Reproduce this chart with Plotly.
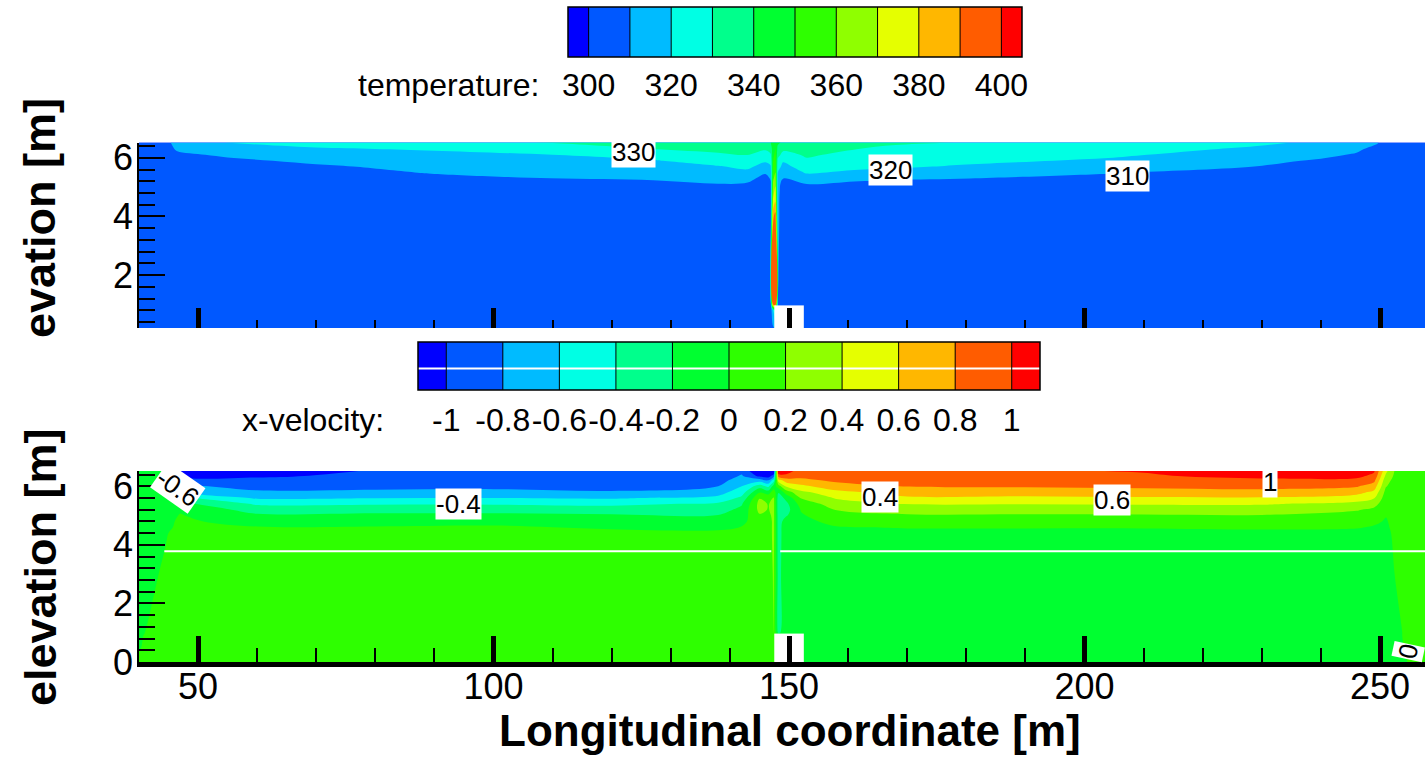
import numpy as np
import plotly.graph_objects as go

FONT = "Liberation Sans, Arial, Helvetica, sans-serif"
W, H = 1425, 757

# ---------------- colour bands (Tecplot-like rainbow, 12 bands) ----------------
band_colors = ["#0000FF", "#0058FF", "#00BBFF", "#00FFE4", "#00FF8C", "#00FF30",
               "#2EFF00", "#8FFF00", "#E5FF00", "#FFB700", "#FF5C00", "#FF0000"]

# ---------------- legend levels / tick labels ----------------
temp_levels = [300, 310, 320, 330, 340, 350, 360, 370, 380, 390, 400]
temp_tick_values = [300, 320, 340, 360, 380, 400]
temp_tick_labels = ["300", "320", "340", "360", "380", "400"]

vel_levels = [-1.0, -0.8, -0.6, -0.4, -0.2, 0.0, 0.2, 0.4, 0.6, 0.8, 1.0]
vel_tick_labels = ["-1", "-0.8", "-0.6", "-0.4", "-0.2", "0", "0.2", "0.4", "0.6", "0.8", "1"]

x_major_ticks = [50, 100, 150, 200, 250]
elev_major_ticks = [0, 2, 4, 6]

# ---------------- temperature field ----------------
temp_y = [0, 0.8, 1.0, 4.0, 4.5, 4.9, 5.1, 5.3, 5.5, 5.7, 5.9, 6.1, 6.3, 6.52]
temp_x = [40, 44.5, 46.5, 55, 70, 90, 110, 127, 138, 143, 146, 146.9, 147.3, 147.7,
          148.1, 149, 153, 161, 168, 180, 204, 228, 240, 246, 249.5, 251, 258]
temp_profiles = [
    [305, 305, 305, 305, 305, 305, 305, 305, 305, 305, 305, 305, 305, 305],            # 40
    [305, 305, 305, 305, 305, 305, 305, 305, 305, 305, 305, 305, 305, 306],            # 44.5
    [305, 305, 305, 305, 305, 305, 305, 305, 305, 305, 305, 307.5, 311.6, 315],        # 46.5
    [305, 305, 305, 305, 305, 305, 305, 305, 305, 305, 307.5, 312, 316, 320.4],        # 55
    [305, 305, 305, 305, 305, 305, 305, 305, 305, 308.5, 312.4, 315.8, 319.2, 323],    # 70
    [305, 305, 305, 305, 305, 305, 305, 307, 311, 313.3, 315.7, 318.1, 320.8, 327.5],  # 90
    [305, 305, 305, 305, 305, 305, 305.3, 310.1, 312.6, 315.1, 317.5, 320, 325, 330.5],  # 110
    [305, 305, 305, 305, 305, 305, 307.5, 311.3, 314, 316.7, 319.3, 324.3, 330, 334],  # 127
    [305, 305, 305, 305, 305, 305, 309.8, 313.1, 316.3, 319.4, 323.9, 328.8, 332, 336],  # 138
    [305, 305, 305, 305, 305, 305, 308.8, 313.3, 317.8, 322, 326, 330.2, 333, 336],    # 143
    [305, 305, 305, 305, 305, 305, 305, 306.3, 311.3, 316.3, 321.3, 326.3, 331, 338],  # 146
    [305, 305, 306, 306, 307, 308, 309, 311, 315, 319, 324, 329, 334, 340],            # 146.9
    [305, 320, 390, 388, 372, 365, 362, 358, 355, 352, 350, 348, 346, 346],            # 147.3
    [305, 330, 396, 394, 380, 373, 368, 364, 360, 357, 354, 352, 350, 348],            # 147.7
    [305, 305, 310, 312, 312, 313, 314, 316, 320, 324, 328, 333, 337, 342],            # 148.1
    [305, 305, 305, 305, 305, 305, 305.5, 310.3, 313.8, 317.2, 321.1, 327, 332, 338],  # 149
    [305, 305, 305, 305, 305, 305, 309.8, 315.7, 321, 324.8, 328.7, 331.2, 333.5, 336],  # 153
    [305, 305, 305, 305, 305, 305, 307.5, 312.9, 318.6, 322.1, 324.9, 327.6, 330.2, 333],  # 161
    [305, 305, 305, 305, 305, 305, 306.3, 311.4, 317.1, 321.2, 323.7, 326.1, 328.5, 331],  # 168
    [305, 305, 305, 305, 305, 305, 305, 310.2, 314.4, 318.9, 321.9, 324.5, 327.1, 329.8],  # 180
    [305, 305, 305, 305, 305, 305, 305, 306.3, 311, 314.9, 318.8, 321.5, 323.5, 326],  # 204
    [305, 305, 305, 305, 305, 305, 305, 305, 305, 310.2, 313, 316, 319, 322],          # 228
    [305, 305, 305, 305, 305, 305, 305, 305, 305, 305, 308.8, 312.3, 315.4, 318.5],    # 240
    [305, 305, 305, 305, 305, 305, 305, 305, 305, 305, 305, 309, 312, 315],            # 246
    [305, 305, 305, 305, 305, 305, 305, 305, 305, 305, 305, 305, 306.5, 311],          # 249.5
    [305, 305, 305, 305, 305, 305, 305, 305, 305, 305, 305, 305, 305, 306],            # 251
    [305, 305, 305, 305, 305, 305, 305, 305, 305, 305, 305, 305, 305, 305],            # 258
]

# ---------------- x-velocity field ----------------
vel_y = [0, 0.5, 0.9, 1.0, 3.0, 4.4, 4.6, 4.8, 5.0, 5.2, 5.4, 5.6, 5.8, 6.0, 6.2, 6.35, 6.52]
vel_x = [40, 44.5, 47, 60, 80, 100, 120, 138, 142, 145, 146.5, 147.4, 148.2, 149.5, 152,
         158, 170, 190, 210, 230, 246, 249, 251, 253, 256, 258]
vel_profiles = [
    [0.02, -0.01, -0.02, -0.029, -0.116, -0.14, -0.12, -0.1, -0.1, -0.1, -0.1, -0.1, -0.1, -0.1, -0.1, -0.1, -0.1],  # 40
    [0.1, 0.1, 0.1, 0.1, 0.04, -0.02, -0.05, -0.05, -0.06, -0.1, -0.1, -0.1, -0.1, -0.1, -0.1, -0.1, -0.1],          # 44.5
    [0.1, 0.1, 0.1, 0.1, 0.1, 0.08, 0.05, 0.03, 0.01, -0.02, -0.15, -0.35, -0.58, -0.76, -0.9, -1.0, -1.05],        # 47
    [0.1, 0.1, 0.1, 0.1, 0.1, 0.05, 0.01, -0.07, -0.16, -0.29, -0.43, -0.63, -0.77, -0.87, -0.96, -1.02, -1.06],    # 60
    [0.1, 0.1, 0.1, 0.1, 0.1, 0.05, 0.01, -0.06, -0.15, -0.28, -0.42, -0.61, -0.76, -0.86, -0.93, -0.97, -0.99],    # 80
    [0.1, 0.1, 0.1, 0.1, 0.1, 0.05, 0.02, -0.05, -0.15, -0.28, -0.42, -0.6, -0.75, -0.85, -0.9, -0.93, -0.95],      # 100
    [0.1, 0.1, 0.1, 0.1, 0.1, 0.04, -0.02, -0.08, -0.17, -0.3, -0.45, -0.62, -0.78, -0.88, -0.95, -0.98, -0.99],    # 120
    [0.1, 0.1, 0.1, 0.1, 0.1, 0.03, -0.03, -0.1, -0.19, -0.28, -0.37, -0.55, -0.68, -0.8, -0.88, -0.92, -0.95],     # 138
    [0.1, 0.1, 0.1, 0.1, 0.1, 0.04, 0.005, -0.05, -0.1, -0.15, -0.22, -0.35, -0.5, -0.6, -0.7, -0.78, -0.85],       # 142
    [0.1, 0.1, 0.1, 0.1, 0.1, 0.1, 0.1, 0.12, 0.18, 0.25, 0.26, 0.19, -0.02, -0.3, -0.7, -1.05, -1.2],              # 145
    [0.1, 0.1, 0.1, 0.1, 0.1, 0.1, 0.1, 0.1, 0.15, 0.19, 0.19, 0.15, -0.1, -0.45, -0.8, -1.1, -1.2],                # 146.5
    [0.1, 0.1, 0.1, 0.21, 0.22, 0.25, 0.25, 0.25, 0.25, 0.25, 0.25, 0.21, 0.1, -0.1, -0.5, -0.9, -1.2],             # 147.4
    [-0.05, -0.05, -0.05, -0.25, -0.28, -0.3, -0.3, -0.3, -0.3, -0.32, -0.32, -0.3, -0.18, 0.1, 0.5, 0.9, 1.15],    # 148.2
    [-0.05, -0.05, -0.05, -0.05, -0.05, -0.05, -0.05, -0.1, -0.22, -0.28, -0.25, -0.15, 0.1, 0.42, 0.7, 0.95, 1.1], # 149.5
    [-0.05, -0.05, -0.05, -0.05, -0.05, -0.05, -0.05, -0.05, -0.02, 0.01, 0.08, 0.21, 0.35, 0.55, 0.75, 0.85, 0.9], # 152
    [-0.05, -0.05, -0.05, -0.05, -0.05, -0.05, -0.01, 0.05, 0.12, 0.21, 0.3, 0.42, 0.55, 0.72, 0.84, 0.88, 0.92],   # 158
    [-0.05, -0.05, -0.05, -0.05, -0.05, -0.04, 0.01, 0.08, 0.18, 0.27, 0.41, 0.57, 0.7, 0.81, 0.87, 0.92, 0.95],    # 170
    [-0.05, -0.05, -0.05, -0.05, -0.05, -0.04, 0.01, 0.08, 0.18, 0.28, 0.41, 0.56, 0.7, 0.82, 0.9, 0.95, 0.98],     # 190
    [-0.05, -0.05, -0.05, -0.05, -0.05, -0.04, 0.01, 0.09, 0.18, 0.3, 0.42, 0.58, 0.72, 0.84, 0.92, 0.98, 1.01],    # 210
    [-0.05, -0.05, -0.05, -0.05, -0.05, -0.03, 0.02, 0.1, 0.19, 0.3, 0.42, 0.58, 0.74, 0.86, 0.96, 1.05, 1.1],      # 230
    [-0.05, -0.05, -0.05, -0.05, -0.05, -0.04, 0.01, 0.05, 0.12, 0.22, 0.35, 0.5, 0.68, 0.82, 0.95, 1.05, 1.1],     # 246
    [-0.05, -0.05, -0.05, -0.05, -0.05, -0.04, -0.01, 0.02, 0.07, 0.15, 0.28, 0.41, 0.55, 0.7, 0.85, 0.95, 1.02],   # 249
    [-0.05, -0.05, -0.05, -0.05, -0.04, -0.03, -0.02, -0.01, 0.005, 0.03, 0.06, 0.1, 0.14, 0.21, 0.27, 0.35, 0.45], # 251
    [-0.035, -0.03, -0.02, -0.02, 0.015, 0.04, 0.05, 0.05, 0.06, 0.08, 0.1, 0.1, 0.1, 0.1, 0.1, 0.1, 0.1],         # 253
    [0.03, 0.06, 0.06, 0.06, 0.06, 0.06, 0.06, 0.06, 0.06, 0.06, 0.06, 0.06, 0.06, 0.06, 0.06, 0.06, 0.06],         # 256
    [0.08, 0.08, 0.08, 0.08, 0.08, 0.08, 0.08, 0.08, 0.08, 0.08, 0.08, 0.08, 0.08, 0.08, 0.08, 0.08, 0.08],         # 258
]

# blank (no-data) block at the source, and white artefact lines
obstacle_x = [147.5, 152.5]
obstacle_top = 0.97
vel_white_line_x = [44.3, 147.0, None, 148.5, 258.0]
vel_white_line_elev = 3.78
cbar_white_line_frac = 0.45

# contour labels: text, x, elevation, angle
temp_labels = [("330", 123.7, 6.18, 0), ("320", 167.2, 5.59, 0), ("310", 207.2, 5.38, 0)]
vel_labels = [("-0.6", 46.6, 5.93, 35), ("-0.4", 94.1, 5.39, 0), ("0.4", 165.4, 5.62, 0),
              ("0.6", 204.6, 5.53, 0), ("1", 231.3, 6.14, 0), ("0", 254.8, 0.37, -78)]

# ---------------- helpers ----------------
def step_scale(colors):
    n = len(colors) - 1
    sc = []
    for k, c in enumerate(colors):
        sc.append([max(0.0, (k - 0.5) / n), c])
        sc.append([min(1.0, (k + 0.5) / n), c])
    return sc


def bar_geometry(levels):
    step = levels[1] - levels[0]
    edges = [levels[0] - step / 2] + list(levels) + [levels[-1] + step / 2]
    values = [levels[0] - step / 2 + k * step for k in range(len(levels) + 1)]
    return edges, values


scale = step_scale(band_colors)
temp_z = np.array(temp_profiles, dtype=float).T
vel_z = np.array(vel_profiles, dtype=float).T

fig = go.Figure()

# main fields
fig.add_trace(go.Contour(
    x=temp_x, y=temp_y, z=temp_z, autocontour=False,
    contours=dict(start=temp_levels[0], end=temp_levels[-1],
                  size=temp_levels[1] - temp_levels[0], coloring="fill", showlines=False),
    colorscale=scale, showscale=False, line=dict(width=0), hoverinfo="skip",
    xaxis="x", yaxis="y"))
fig.add_trace(go.Contour(
    x=vel_x, y=vel_y, z=vel_z, autocontour=False,
    contours=dict(start=vel_levels[0], end=vel_levels[-1],
                  size=round(vel_levels[1] - vel_levels[0], 6), coloring="fill", showlines=False),
    colorscale=scale, showscale=False, line=dict(width=0), hoverinfo="skip",
    xaxis="x2", yaxis="y2"))

# blank blocks at the source (drawn as filled traces so axis ticks stay on top)
for xa, ya in (("x", "y"), ("x2", "y2")):
    fig.add_trace(go.Scatter(
        x=[obstacle_x[0], obstacle_x[1], obstacle_x[1], obstacle_x[0], obstacle_x[0]],
        y=[0, 0, obstacle_top, obstacle_top, 0], mode="lines", fill="toself",
        fillcolor="white", line=dict(width=0, color="white"), hoverinfo="skip",
        showlegend=False, xaxis=xa, yaxis=ya))

fig.add_trace(go.Scatter(
    x=vel_white_line_x, y=[vel_white_line_elev if v is not None else None for v in vel_white_line_x],
    mode="lines", line=dict(color="white", width=2), hoverinfo="skip",
    showlegend=False, xaxis="x2", yaxis="y2"))

# legend bars
shapes = []
for levels, xa, ya in ((temp_levels, "x3", "y3"), (vel_levels, "x4", "y4")):
    edges, values = bar_geometry(levels)
    fig.add_trace(go.Heatmap(
        x=edges, y=[0, 1], z=[values], zmin=values[0], zmax=values[-1],
        colorscale=scale, showscale=False, hoverinfo="skip", xaxis=xa, yaxis=ya))
    for e in edges[1:-1]:
        shapes.append(dict(type="line", xref=xa, yref=ya + " domain", x0=e, x1=e, y0=0, y1=1,
                           line=dict(color="black", width=1)))
    shapes.append(dict(type="rect", xref=xa + " domain", yref=ya + " domain",
                       x0=0, x1=1, y0=0, y1=1, line=dict(color="black", width=1.5)))

v_edges, _ = bar_geometry(vel_levels)
fig.add_trace(go.Scatter(
    x=[v_edges[0], v_edges[-1]], y=[cbar_white_line_frac, cbar_white_line_frac],
    mode="lines", line=dict(color="white", width=2), hoverinfo="skip",
    showlegend=False, xaxis="x4", yaxis="y4"))

# ---------------- layout ----------------
def py(px):
    return (H - px) / H

x_dom = [138.9 / W, 1.0]
x_range = [40, 257.6]
tick_font = dict(family=FONT, size=36, color="black")

common_x = dict(domain=x_dom, range=x_range, tick0=0, dtick=50, ticks="inside",
                tickwidth=5, tickcolor="black", showgrid=False, zeroline=False,
                tickfont=tick_font, tickangle=0, automargin=False)
common_y = dict(tick0=0, dtick=2, ticks="inside", ticklen=26, tickwidth=2, tickcolor="black",
                showgrid=False, zeroline=False, showline=True, linecolor="black", linewidth=1.5,
                tickfont=tick_font, ticklabelstandoff=-3, automargin=False,
                minor=dict(dtick=0.4, tick0=0, ticks="inside", ticklen=16, tickwidth=2,
                           tickcolor="black", showgrid=False))

layout = dict(
    width=W, height=H, autosize=False, margin=dict(l=0, r=0, t=0, b=0, pad=0),
    paper_bgcolor="white", plot_bgcolor="white", showlegend=False,
    font=dict(family=FONT, color="black"),
    xaxis=dict(common_x, anchor="y", ticklen=20, showticklabels=False, showline=False,
               minor=dict(dtick=10, tick0=0, ticks="inside", ticklen=8.5, tickwidth=2,
                          tickcolor="black", showgrid=False)),
    yaxis=dict(common_y, anchor="x", domain=[py(328), py(142.5)], range=[0.2, 6.52]),
    xaxis2=dict(common_x, anchor="y2", ticklen=26, showticklabels=True, showline=True,
                linecolor="black", linewidth=5, ticklabelstandoff=-11,
                minor=dict(dtick=10, tick0=0, ticks="inside", ticklen=14.5, tickwidth=2,
                           tickcolor="black", showgrid=False)),
    yaxis2=dict(common_y, anchor="x2", domain=[py(662), py(471)], range=[0, 6.52]),
    xaxis3=dict(domain=[568 / W, 1022 / W], anchor="y3", range=[295, 405], automargin=False,
                tickmode="array", tickvals=temp_tick_values, ticktext=temp_tick_labels,
                ticks="", showline=False, showgrid=False, zeroline=False, tickangle=0,
                tickfont=dict(family=FONT, size=32, color="black"), ticklabelstandoff=6),
    yaxis3=dict(domain=[py(57), py(7)], anchor="x3", range=[0, 1], visible=False, automargin=False),
    xaxis4=dict(domain=[418 / W, 1040 / W], anchor="y4", range=[-1.1, 1.1], automargin=False,
                tickmode="array", tickvals=vel_levels, ticktext=vel_tick_labels,
                ticks="", showline=False, showgrid=False, zeroline=False, tickangle=0,
                tickfont=dict(family=FONT, size=32, color="black"), ticklabelstandoff=8),
    yaxis4=dict(domain=[py(390), py(342)], anchor="x4", range=[0, 1], visible=False, automargin=False),
    shapes=shapes,
)
fig.update_layout(**layout)

annotations = []
for txt, x, e, ang in temp_labels:
    annotations.append(dict(x=x, y=e, xref="x", yref="y", text=txt, showarrow=False,
                            textangle=ang, bgcolor="white", borderpad=0,
                            font=dict(family=FONT, size=26, color="black")))
for txt, x, e, ang in vel_labels:
    annotations.append(dict(x=x, y=e, xref="x2", yref="y2", text=txt, showarrow=False,
                            textangle=ang, bgcolor="white", borderpad=0,
                            font=dict(family=FONT, size=26, color="black")))
annotations += [
    dict(x=541 / W, y=py(85), xref="paper", yref="paper", text="temperature:",
         showarrow=False, xanchor="right", yanchor="middle",
         font=dict(family=FONT, size=32, color="black")),
    dict(x=386 / W, y=py(420), xref="paper", yref="paper", text="x-velocity:",
         showarrow=False, xanchor="right", yanchor="middle",
         font=dict(family=FONT, size=32, color="black")),
    dict(x=790 / W, y=0.0, xref="paper", yref="paper", text="<b>Longitudinal coordinate [m]</b>",
         showarrow=False, xanchor="center", yanchor="bottom",
         font=dict(family=FONT, size=44, color="black")),
    dict(x=40 / W, y=py(567), xref="paper", yref="paper", text="<b>elevation [m]</b>",
         showarrow=False, xanchor="center", yanchor="middle", textangle=-90,
         font=dict(family=FONT, size=45, color="black")),
    dict(x=40 / W, y=py(218), xref="paper", yref="paper", text="<b>evation [m]</b>",
         showarrow=False, xanchor="center", yanchor="middle", textangle=-90,
         font=dict(family=FONT, size=45, color="black")),
]
fig.update_layout(annotations=annotations)

fig.write_html("out.html", config={"displayModeBar": False},
               post_script="document.body.style.margin='0';document.body.style.overflow='hidden';")
